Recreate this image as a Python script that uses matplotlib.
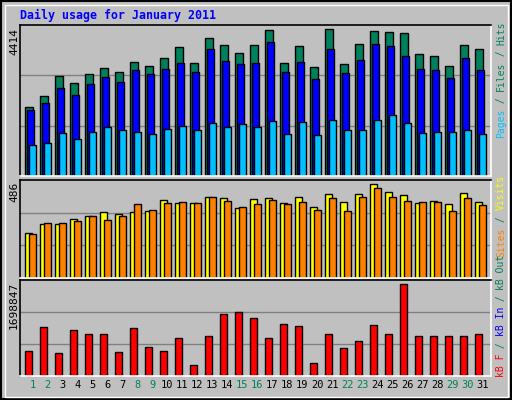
import matplotlib
matplotlib.use("Agg")
import matplotlib.pyplot as plt
import numpy as np

days = list(range(1, 32))
hits = [2070,2400,3000,2790,3060,3240,3120,3420,3300,3540,3870,3390,4140,3930,3690,3930,
        4380,3390,3900,3270,4414,3360,3960,4350,4320,4290,3660,3600,3300,3930,3810]
files = [1980,2190,2640,2430,2760,2970,2820,3180,3060,3210,3390,3120,3810,3450,3360,3390,
         4020,3120,3420,2910,3810,3090,3480,3960,3900,3600,3210,3180,2940,3540,3180]
pages = [930,990,1290,1110,1320,1470,1380,1320,1260,1410,1500,1380,1590,1470,1560,1470,
         1650,1260,1620,1230,1680,1380,1380,1680,1830,1590,1290,1320,1320,1380,1260]
visits = [233,277,277,307,318,339,333,339,344,402,386,386,418,412,360,407,
          412,386,418,365,433,391,433,486,444,428,386,397,381,439,391]
sites = [228,286,286,297,318,302,323,381,349,386,391,386,418,397,365,381,
         402,381,391,354,412,344,418,465,418,397,391,391,344,412,376]
kbf = [471000,905000,434000,843000,787000,787000,453000,880000,546000,471000,713000,211000,
       750000,1141000,1178000,1066000,713000,955000,918000,248000,787000,527000,657000,936000,
       769000,1698847,732000,750000,732000,732000,769000]
weekend = [1,2,8,9,15,16,22,23,29,30]

W, H = 512, 400
BG = '#C0C0C0'
fig = plt.figure(figsize=(5.12, 4.0), dpi=100, facecolor=BG)
MONO = 'DejaVu Sans Mono'

def add_ax(top, bottom, left=20, right=491):
    ax = fig.add_axes([left/W, 1-bottom/H, (right-left)/W, (bottom-top)/H])
    ax.set_facecolor(BG)
    ax.set_xlim(0.67, 32.07)
    ax.set_xticks([]); ax.set_yticks([])
    for s in ['top', 'left']:
        ax.spines[s].set_color('black')
    for s in ['bottom', 'right']:
        ax.spines[s].set_color('white')
    for s in ax.spines.values():
        s.set_linewidth(1.2)
    return ax

d = np.array(days)
ek = dict(edgecolor='black', linewidth=1, align='edge')

ax1 = add_ax(25, 176)
top1 = 4414*151/147
ax1.set_ylim(0, top1)
for k in (1, 2):
    ax1.axhline(top1*k/3, color='#808080', lw=1, zorder=0)
ax1.bar(d, hits, 0.53, color='#00805C', **ek)
ax1.bar(d+0.13, files, 0.5, color='#0000FF', **ek)
ax1.bar(d+0.27, pages, 0.47, color='#00C0FF', **ek)

ax2 = add_ax(180, 278)
top2 = 486*98/94
ax2.set_ylim(0, top2)
for k in (1, 2):
    ax2.axhline(top2*k/3, color='#808080', lw=1, zorder=0)
ax2.bar(d, visits, 0.47, color='#FFFF00', **ek)
ax2.bar(d+0.27, sites, 0.47, color='#FF8000', **ek)

ax3 = add_ax(280, 376)
top3 = 1698847*96/91.7
ax3.set_ylim(0, top3)
for k in (1, 2):
    ax3.axhline(top3*k/3, color='#808080', lw=1, zorder=0)
ax3.bar(d, kbf, 0.5, color='#FF0000', **ek)

for dd in days:
    ax3.text(dd+0.5, -0.04, str(dd), transform=ax3.get_xaxis_transform(),
             ha='center', va='top', fontsize=7.5, family=MONO,
             color='#00805C' if dd in weekend else 'black')

fig.text(20/W, 1-15/H, 'Daily usage for January 2011', color='#0000FF',
         fontsize=8.4, family=MONO, fontweight='bold', ha='left', va='center')

for lab, ytop in (('4414', 28), ('486', 182), ('1698847', 282)):
    fig.text(14/W, 1-ytop/H, lab, rotation=90, fontsize=8, family=MONO,
             ha='center', va='top', color='black')

pitch = 0.6*7*100/72
def vlabel(segments, ybottom, x=501):
    idx = 0
    for txt, col in segments:
        if txt.strip():
            fig.text(x/W, 1-(ybottom - idx*pitch)/H, txt, rotation=90, fontsize=7,
                     family=MONO, color=col, ha='center', va='bottom')
        idx += len(txt)

vlabel([('Pages', '#00C0FF'), (' / ', '#00805C'), ('Files', '#00805C'),
        (' / ', '#00805C'), ('Hits', '#00805C')], 138)
vlabel([('Sites', '#FF8000'), (' / ', '#00805C'), ('Visits', '#FFFF00')], 257)
vlabel([('kB F', '#FF0000'), (' / ', '#00805C'), ('kB In', '#0000FF'),
        (' / ', '#00805C'), ('kB Out', '#00805C')], 377)

fig.add_artist(plt.Rectangle((1/W, 1/H), (W-2)/W, (H-2)/H, transform=fig.transFigure,
                             fill=False, edgecolor='black', lw=1.5))
fig.add_artist(plt.Rectangle((5/W, 3/H), (W-9)/W, (H-8)/H, transform=fig.transFigure,
                             fill=False, edgecolor='white', lw=1))

fig.savefig('out.png', dpi=100, facecolor=BG)
